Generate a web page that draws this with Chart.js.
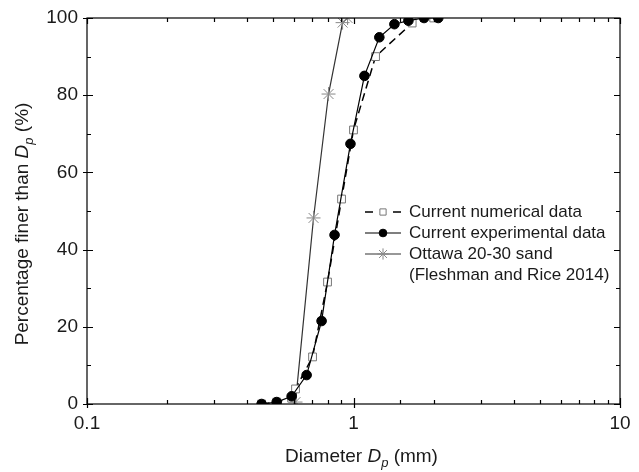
<!DOCTYPE html>
<html>
<head>
<meta charset="utf-8">
<script src="https://cdn.jsdelivr.net/npm/chart.js@4.4.1/dist/chart.umd.min.js"></script>
<style>
  html, body { margin: 0; padding: 0; background: #fff; }
  #wrap { width: 639px; height: 472px; }
</style>
</head>
<body>
<div id="wrap"><canvas id="grading"></canvas></div>
<script>
// diameters (mm) and percentage finer
const numX = [0.452, 0.515, 0.586, 0.606, 0.702, 0.799, 0.902, 1.0, 1.21, 1.66, 2.0];
const numY = [0, 0.5, 1.5, 3.9, 12.2, 31.6, 53.1, 71, 90, 98.7, 100];

const expX = [0.452, 0.515, 0.586, 0.667, 0.759, 0.849, 0.974, 1.099, 1.25, 1.424, 1.607, 1.84, 2.08];
const expY = [0, 0.5, 2, 7.5, 21.5, 43.8, 67.4, 85, 95, 98.4, 99.3, 100, 100];

const ottX = [0.606, 0.708, 0.806, 0.91, 0.95];
const ottY = [0.5, 48.2, 80.3, 98.8, 100];

const legendLabels = [
    ['Current numerical data'],
    ['Current experimental data'],
    ['Ottawa 20-30 sand', '(Fleshman and Rice 2014)']
];

const FONT = '"Liberation Sans", Arial, sans-serif';
const TEXT = '#1a1a1a';

function toPoints(xs, ys) {
    return xs.map((x, i) => ({ x: x, y: ys[i] }));
}

// draws pieces of text one after another: [text, italic, size, dy]
function drawPieces(ctx, pieces, cx, cy) {
    let total = 0;
    pieces.forEach(p => {
        ctx.font = (p[1] ? 'italic ' : '') + p[2] + 'px ' + FONT;
        p.w = ctx.measureText(p[0]).width;
        total += p.w;
    });
    let x = cx - total / 2;
    ctx.textBaseline = 'middle';
    ctx.textAlign = 'left';
    pieces.forEach(p => {
        ctx.font = (p[1] ? 'italic ' : '') + p[2] + 'px ' + FONT;
        ctx.fillText(p[0], x, cy + p[3]);
        x += p.w;
    });
}

const framePlugin = {
    id: 'frame',
    afterDraw(chart) {
        const ctx = chart.ctx;
        const a = chart.chartArea;
        const xs = chart.scales.x, ys = chart.scales.y;
        ctx.save();
        ctx.strokeStyle = '#000';
        ctx.lineWidth = 1.2;
        ctx.strokeRect(a.left, a.top, a.right - a.left, a.bottom - a.top);

        ctx.beginPath();
        xs.ticks.forEach(t => {
            const px = Math.round(xs.getPixelForValue(t.value)) + 0.5;
            const lg = Math.log10(t.value);
            const major = Math.abs(lg - Math.round(lg)) < 1e-6;
            const inL = major ? 6 : 4, outL = major ? 4 : 0;
            ctx.moveTo(px, a.bottom + outL); ctx.lineTo(px, a.bottom - inL);
            ctx.moveTo(px, a.top); ctx.lineTo(px, a.top + inL);
        });
        ys.ticks.forEach(t => {
            const py = Math.round(ys.getPixelForValue(t.value)) + 0.5;
            const major = t.value % 20 === 0;
            const inL = major ? 6 : 4, outL = major ? 4 : 0;
            ctx.moveTo(a.left - outL, py); ctx.lineTo(a.left + inL, py);
            ctx.moveTo(a.right, py); ctx.lineTo(a.right - inL, py);
        });
        ctx.stroke();

        // axis titles
        ctx.fillStyle = TEXT;
        drawPieces(ctx, [['Diameter ', false, 19, 0], ['D', true, 19, 0], ['p', true, 13, 6], [' (mm)', false, 19, 0]],
            (a.left + a.right) / 2 + 8, 457);
        ctx.save();
        ctx.translate(23, 224);
        ctx.rotate(-Math.PI / 2);
        drawPieces(ctx, [['Percentage finer than ', false, 19, 0], ['D', true, 19, 0], ['p', true, 13, 6], [' (%)', false, 19, 0]], 0, 0);
        ctx.restore();

        // legend
        const rowsY = [212, 233, 254, 275];
        let row = 0;
        legendLabels.forEach((lines, i) => {
            const ds = chart.data.datasets[i];
            const y = rowsY[row];
            ctx.save();
            ctx.strokeStyle = ds.borderColor;
            ctx.lineWidth = ds.borderWidth;
            ctx.setLineDash(ds.borderDash || []);
            ctx.beginPath();
            if (ds.borderDash) {
                ctx.moveTo(365, y); ctx.lineTo(373, y);
                ctx.moveTo(393, y); ctx.lineTo(401, y);
            } else {
                ctx.moveTo(365, y); ctx.lineTo(401, y);
            }
            ctx.stroke();
            ctx.restore();
            ctx.save();
            ctx.strokeStyle = ds.pointBorderColor;
            ctx.fillStyle = ds.pointBackgroundColor;
            ctx.lineWidth = ds.pointBorderWidth;
            Chart.helpers.drawPoint(ctx, {
                pointStyle: ds.pointStyle,
                radius: ds.pointRadius * 0.8,
                borderWidth: ds.pointBorderWidth
            }, 383, y);
            ctx.restore();
            ctx.fillStyle = TEXT;
            ctx.font = '17px ' + FONT;
            ctx.textAlign = 'left';
            ctx.textBaseline = 'middle';
            lines.forEach(l => {
                ctx.fillText(l, 409, rowsY[row]);
                row++;
            });
        });
        ctx.restore();
    }
};

new Chart(document.getElementById('grading'), {
    type: 'scatter',
    data: {
        datasets: [{
            label: 'Current numerical data',
            data: toPoints(numX, numY),
            showLine: true,
            borderColor: '#000',
            borderWidth: 1.5,
            borderDash: [8, 5],
            pointStyle: 'rect',
            pointRadius: 5.5,
            pointBorderColor: '#777',
            pointBackgroundColor: '#fff',
            pointBorderWidth: 1,
            order: 1
        }, {
            label: 'Current experimental data',
            data: toPoints(expX, expY),
            showLine: true,
            borderColor: '#000',
            borderWidth: 1.2,
            pointStyle: 'circle',
            pointRadius: 4.8,
            pointBorderColor: '#000',
            pointBackgroundColor: '#000',
            pointBorderWidth: 1,
            order: 0
        }, {
            label: 'Ottawa 20-30 sand (Fleshman and Rice 2014)',
            data: toPoints(ottX, ottY),
            showLine: true,
            borderColor: '#333',
            borderWidth: 1.2,
            pointStyle: 'star',
            pointRadius: 7,
            pointBorderColor: '#888',
            pointBackgroundColor: '#888',
            pointBorderWidth: 1,
            order: 2
        }]
    },
    options: {
        responsive: true,
        maintainAspectRatio: false,
        animation: false,
        layout: { padding: { left: 0, right: 19, top: 18, bottom: 0 } },
        scales: {
            x: {
                type: 'logarithmic',
                min: 0.1,
                max: 10,
                grid: { display: false },
                border: { display: false },
                ticks: {
                    autoSkip: false,
                    maxRotation: 0,
                    color: TEXT,
                    font: { family: FONT, size: 19 },
                    padding: 0,
                    callback: function (v) {
                        const lg = Math.log10(v);
                        return Math.abs(lg - Math.round(lg)) < 1e-6 ? String(Number(v.toPrecision(3))) : '';
                    }
                },
                afterFit: s => { s.height = 68; }
            },
            y: {
                min: 0,
                max: 100,
                grid: { display: false },
                border: { display: false },
                ticks: {
                    stepSize: 10,
                    color: TEXT,
                    font: { family: FONT, size: 19 },
                    padding: 1,
                    callback: v => (v % 20 === 0 ? v : '')
                },
                afterFit: s => { s.width = 87; }
            }
        },
        plugins: {
            legend: { display: false },
            tooltip: { enabled: false }
        }
    },
    plugins: [framePlugin]
});
</script>
</body>
</html>
